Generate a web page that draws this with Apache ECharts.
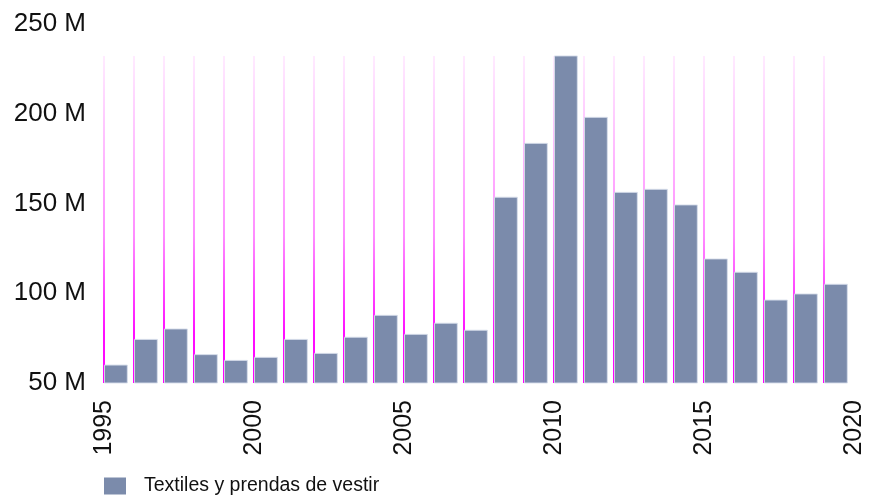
<!DOCTYPE html>
<html>
<head>
<meta charset="utf-8">
<script src="https://cdn.jsdelivr.net/npm/echarts@6/dist/echarts.min.js"></script>
<style>
  html, body { margin: 0; padding: 0; background: #fff; }
  #chart { width: 870px; height: 497px; }
</style>
</head>
<body>
<div id="chart"></div>
<script>
// Years (x positions) and values in millions
const years = [1995, 1996, 1997, 1998, 1999, 2000, 2001, 2002, 2003, 2004, 2005, 2006, 2007,
               2008, 2009, 2010, 2011, 2012, 2013, 2014, 2015, 2016, 2017, 2018, 2019];
const values = [60.0, 74.3, 80.1, 65.8, 62.6, 64.3, 74.3, 66.5, 75.5, 87.7, 77.1, 83.3, 79.4,
                153.5, 183.5, 232.2, 198.0, 156.2, 157.9, 149.2, 119.1, 111.7, 96.2, 99.6, 105.0];
const seriesName = 'Textiles y prendas de vestir';
const yTicks = [50, 100, 150, 200, 250];
const xTicks = [1995, 2000, 2005, 2010, 2015, 2020];

const Y_MIN = yTicks[0], Y_MAX = yTicks[yTicks.length - 1];
const X_MIN = xTicks[0], X_MAX = xTicks[xTicks.length - 1];
const barColor = '#7b8bab';
const maxVal = Math.max(...values);

const barData = years.map((y, i) => [y, values[i]]);
const lineData = years.map(y => [y, maxVal]);

const chart = echarts.init(document.getElementById('chart'), null, { renderer: 'canvas' });

const option = {
  animation: false,
  backgroundColor: '#ffffff',
  grid: { left: 104, right: 16, top: 24, bottom: 114, containLabel: false },
  xAxis: {
    type: 'value',
    min: X_MIN, max: X_MAX, interval: 5,
    axisLine: { show: false },
    axisTick: { show: false },
    splitLine: { show: false },
    axisLabel: {
      rotate: 90, margin: 17, fontSize: 25,
      fontFamily: 'Liberation Sans, Arial, sans-serif', color: '#111',
      showMinLabel: true, showMaxLabel: true,
      formatter: v => String(v)
    }
  },
  yAxis: {
    type: 'value',
    min: Y_MIN, max: Y_MAX, interval: 50,
    axisLine: { show: false },
    axisTick: { show: false },
    splitLine: { show: false },
    axisLabel: {
      margin: 18, fontSize: 26,
      fontFamily: 'Liberation Sans, Arial, sans-serif', color: '#111',
      formatter: v => v + ' M'
    }
  },
  legend: {
    left: 104, bottom: 1, padding: 0,
    icon: 'rect', itemWidth: 22, itemHeight: 17,
    data: [seriesName],
    textStyle: {
      fontSize: 19.5, color: '#111',
      fontFamily: 'Liberation Sans, Arial, sans-serif',
      padding: [0, 0, 0, 13]
    }
  },
  series: [
    {
      type: 'custom',
      name: 'guides',
      silent: true,
      z: 1,
      data: lineData,
      encode: { x: 0, y: 1 },
      renderItem: (params, api) => {
        const x = api.value(0), v = api.value(1);
        const pb = api.coord([x, Y_MIN]);
        const pt = api.coord([x, v]);
        return {
          type: 'rect',
          shape: { x: pb[0] - 1, y: pt[1], width: 2, height: pb[1] - pt[1] },
          style: {
            fill: new echarts.graphic.LinearGradient(0, 0, 0, 1, [
              { offset: 0, color: 'rgba(255,0,255,0.08)' },
              { offset: 0.55, color: 'rgba(255,0,255,0.45)' },
              { offset: 0.85, color: 'rgba(255,0,255,0.95)' },
              { offset: 1, color: 'rgba(255,0,255,1)' }
            ])
          }
        };
      }
    },
    {
      type: 'custom',
      name: seriesName,
      z: 2,
      itemStyle: { color: barColor },
      data: barData,
      encode: { x: 0, y: 1 },
      renderItem: (params, api) => {
        const x = api.value(0), v = api.value(1);
        const p0 = api.coord([x, Y_MIN]);
        const p1 = api.coord([x + 1, v]);
        const w = (p1[0] - p0[0]) * 0.76;
        return {
          type: 'rect',
          shape: { x: p0[0] + 0.5, y: p1[1], width: w, height: p0[1] - p1[1] },
          style: { fill: barColor, stroke: 'rgba(215,222,235,0.9)', lineWidth: 1 }
        };
      }
    }
  ]
};

chart.setOption(option);
</script>
</body>
</html>
